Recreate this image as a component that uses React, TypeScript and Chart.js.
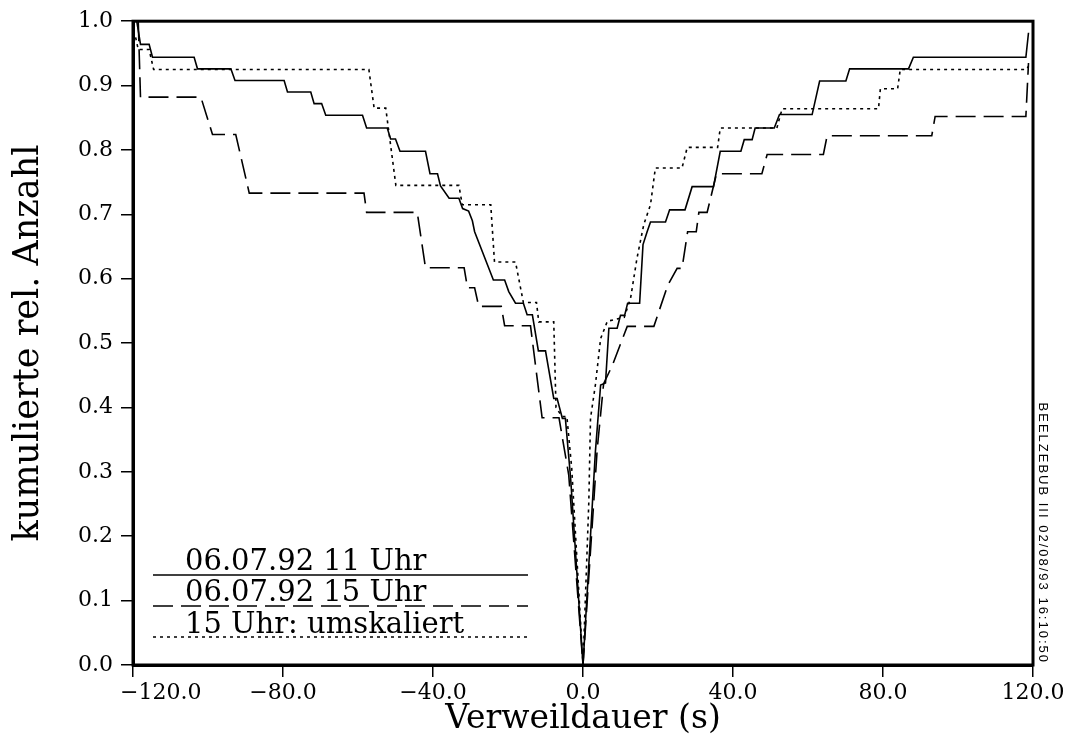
import React, { useEffect, useRef } from "react";
import { Chart, registerables } from "chart.js";

Chart.register(...registerables);

// ---- Data ----
const xTickValues = [-120, -80, -40, 0, 40, 80, 120];
const yTickValues = [0, 0.1, 0.2, 0.3, 0.4, 0.5, 0.6, 0.7, 0.8, 0.9, 1.0];
const xAxisTitle = "Verweildauer (s)";
const yAxisTitle = "kumulierte rel. Anzahl";
const seriesLabels = ["06.07.92 11 Uhr", "06.07.92 15 Uhr", "15 Uhr: umskaliert"];
const stampText = "BEELZEBUB III 02/08/93 16:10:50";

// 06.07.92 11 Uhr (solid)
const x11 = [
  -119.0, -118.0, -115.7, -114.8, -103.7, -102.8, -93.9, -92.8, -79.7, -78.8,
  -72.6, -71.7, -69.7, -68.6, -58.8, -57.7, -52.2, -51.3, -50.0, -48.8,
  -42.0, -40.8, -38.8, -38.0, -35.7, -33.1, -32.1, -30.5, -29.5, -28.9,
  -23.9, -20.9, -19.8, -18.0, -15.9, -14.9, -13.5, -11.9, -10.0, -7.8,
  -6.9, -5.5, -4.7, -3.3, 0,
  3.3, 4.7, 6.0, 6.9, 9.1, 10.0, 11.1, 11.9, 15.1, 16.0,
  17.1, 18.0, 22.0, 23.1, 27.2, 29.1, 34.8, 36.6, 42.1, 43.0,
  45.1, 45.9, 51.0, 52.4, 61.1, 63.1, 70.1, 71.1, 86.8, 88.1,
  118.1, 118.8,
];
const y11 = [
  1.0, 0.964, 0.964, 0.944, 0.944, 0.926, 0.926, 0.908, 0.908, 0.89,
  0.89, 0.872, 0.872, 0.854, 0.854, 0.834, 0.834, 0.817, 0.817, 0.798,
  0.798, 0.763, 0.763, 0.744, 0.725, 0.725, 0.709, 0.705, 0.69, 0.673,
  0.598, 0.598, 0.58, 0.562, 0.562, 0.544, 0.544, 0.488, 0.488, 0.414,
  0.414, 0.383, 0.383, 0.29, 0,
  0.331, 0.435, 0.438, 0.523, 0.523, 0.543, 0.543, 0.562, 0.562, 0.653,
  0.673, 0.688, 0.688, 0.707, 0.707, 0.743, 0.743, 0.798, 0.798, 0.816,
  0.816, 0.834, 0.834, 0.855, 0.855, 0.907, 0.907, 0.926, 0.926, 0.944,
  0.944, 0.982,
];

// 06.07.92 15 Uhr (dashed)
const x15 = [
  -118.6, -118.0, -101.9, -98.8, -92.6, -89.0, -58.4, -57.7, -44.2, -42.0,
  -31.7, -30.8, -28.9, -27.8, -21.8, -20.9, -14.0, -10.9, -6.4, -3.8, 0,
  3.8, 5.5, 7.8, 11.8, 18.9, 22.6, 25.1, 26.4, 27.9, 30.2,
  30.9, 33.1, 35.6, 47.7, 49.1, 64.1, 65.1, 93.0, 93.9, 118.1, 118.8,
];
const y15 = [
  1.0, 0.882, 0.882, 0.824, 0.824, 0.733, 0.733, 0.703, 0.703, 0.617,
  0.617, 0.586, 0.586, 0.557, 0.557, 0.527, 0.527, 0.384, 0.384, 0.295, 0,
  0.336, 0.437, 0.465, 0.526, 0.526, 0.59, 0.616, 0.616, 0.673, 0.673,
  0.703, 0.703, 0.763, 0.763, 0.793, 0.793, 0.822, 0.822, 0.852, 0.852, 0.935,
];

// 15 Uhr: umskaliert (dotted)
const x15u = [
  -119.3, -118.6, -115.7, -114.5, -57.1, -55.7, -52.6, -49.9, -33.1, -32.2,
  -24.6, -23.6, -18.0, -15.9, -12.4, -11.8, -7.8, -7.2, -5.6, -4.3, -3.0, 0,
  1.55, 2.0, 3.3, 4.7, 6.5, 11.0, 12.7, 14.4, 16.2, 18.0,
  19.3, 26.4, 27.8, 35.9, 36.6, 51.7, 53.1, 78.8, 79.3, 83.9,
  84.6, 118.3, 118.8,
];
const y15u = [
  0.975, 0.956, 0.956, 0.925, 0.925, 0.865, 0.865, 0.745, 0.745, 0.715,
  0.715, 0.626, 0.626, 0.563, 0.563, 0.533, 0.533, 0.4, 0.386, 0.386, 0.305, 0,
  0.253, 0.383, 0.435, 0.507, 0.534, 0.54, 0.57, 0.632, 0.684, 0.715,
  0.772, 0.772, 0.804, 0.804, 0.834, 0.834, 0.864, 0.864, 0.895, 0.895,
  0.925, 0.925, 0.93,
];

const dashPatterns: number[][] = [[], [20, 8], [3, 4]];
const FONT = "'DejaVu Serif', serif";

const toPoints = (xs: number[], ys: number[]) => xs.map((x, i) => ({ x, y: ys[i] }));
const fmt = (v: number) => {
  const s = Math.abs(v).toFixed(1);
  return v < 0 ? "\u2212" + s : s;
};

const decorPlugin = {
  id: "decor",
  beforeDraw(chart: any) {
    // The first x tick label starts at the left axis end instead of being centred.
    const s = chart.scales.x;
    if (s && typeof s._computeLabelItems === "function") {
      s._labelItems = s._computeLabelItems(chart.chartArea);
      const first = s._labelItems && s._labelItems[0];
      if (first && first.options && first.options.translation) {
        first.options.textAlign = "left";
        first.options.translation = [chart.chartArea.left - 13, first.options.translation[1]];
      }
    }
  },
  afterDraw(chart: any) {
    const { ctx, chartArea: a } = chart;
    ctx.save();
    // frame
    ctx.strokeStyle = "#000";
    ctx.lineWidth = 3;
    ctx.setLineDash([]);
    ctx.strokeRect(a.left, a.top, a.right - a.left, a.bottom - a.top);

    // legend
    ctx.font = `29px ${FONT}`;
    ctx.fillStyle = "#000";
    ctx.textAlign = "left";
    ctx.textBaseline = "alphabetic";
    const textX = a.left + 52;
    const lineX0 = a.left + 20;
    const lineX1 = a.left + 395;
    const baselines = [a.bottom - 95, a.bottom - 64, a.bottom - 32];
    const lineYs = [a.bottom - 90, a.bottom - 59, a.bottom - 28];
    seriesLabels.forEach((label, i) => {
      ctx.fillText(label, textX, baselines[i]);
      ctx.beginPath();
      ctx.lineWidth = 1.6;
      ctx.setLineDash(dashPatterns[i]);
      ctx.moveTo(lineX0, lineYs[i]);
      ctx.lineTo(lineX1, lineYs[i]);
      ctx.stroke();
    });
    ctx.setLineDash([]);

    // rotated stamp on the right
    ctx.save();
    ctx.translate(a.right + 10, a.bottom - 1);
    ctx.rotate(Math.PI / 2);
    ctx.font = "13px 'Liberation Sans', sans-serif";
    (ctx as any).letterSpacing = "2px";
    ctx.textAlign = "right";
    ctx.textBaseline = "middle";
    ctx.fillText(stampText, 0, 0);
    ctx.restore();

    ctx.restore();
  },
};

export default function App() {
  const canvasRef = useRef<HTMLCanvasElement | null>(null);

  useEffect(() => {
    if (!canvasRef.current) return;
    const datasets = [
      { label: seriesLabels[0], data: toPoints(x11, y11), borderDash: dashPatterns[0] },
      { label: seriesLabels[1], data: toPoints(x15, y15), borderDash: dashPatterns[1] },
      { label: seriesLabels[2], data: toPoints(x15u, y15u), borderDash: dashPatterns[2] },
    ].map((d) => ({
      ...d,
      borderColor: "#000",
      borderWidth: 1.6,
      pointRadius: 0,
      tension: 0,
      fill: false,
    }));

    const chart = new Chart(canvasRef.current, {
      type: "line",
      data: { datasets },
      plugins: [decorPlugin],
      options: {
        responsive: false,
        animation: false,
        devicePixelRatio: 1,
        layout: { padding: { top: 21, right: 45, left: 0, bottom: 0 } },
        plugins: { legend: { display: false }, tooltip: { enabled: false } },
        scales: {
          x: {
            type: "linear",
            min: -120,
            max: 120,
            afterBuildTicks: (s: any) => {
              s.ticks = xTickValues.map((value) => ({ value }));
            },
            afterFit: (s: any) => {
              s.height = 82;
            },
            ticks: {
              callback: (v: any) => fmt(Number(v)),
              font: { family: FONT, size: 22 },
              color: "#000",
              padding: 3,
              maxRotation: 0,
              autoSkip: false,
            },
            grid: {
              display: true,
              drawOnChartArea: false,
              drawTicks: true,
              tickLength: 12,
              color: "#000",
              lineWidth: 1.5,
            },
            border: { display: true, color: "#000", width: 3 },
            title: {
              display: true,
              text: xAxisTitle,
              font: { family: FONT, size: 33 },
              color: "#000",
              padding: { top: 0, bottom: 8 },
            },
          },
          y: {
            type: "linear",
            min: 0,
            max: 1,
            afterBuildTicks: (s: any) => {
              s.ticks = yTickValues.map((value) => ({ value }));
            },
            afterFit: (s: any) => {
              s.width = 133;
            },
            ticks: {
              callback: (v: any) => Number(v).toFixed(1),
              font: { family: FONT, size: 22 },
              color: "#000",
              padding: 8,
              autoSkip: false,
            },
            grid: {
              display: true,
              drawOnChartArea: false,
              drawTicks: true,
              tickLength: 12,
              color: "#000",
              lineWidth: 1.5,
            },
            border: { display: true, color: "#000", width: 3 },
            title: {
              display: true,
              text: yAxisTitle,
              font: { family: FONT, size: 35 },
              color: "#000",
              padding: { top: 8, bottom: 0 },
            },
          },
        },
      },
    } as any);
    return () => chart.destroy();
  }, []);

  return (
    <div style={{ position: "fixed", left: 0, top: 0, width: 1078, height: 747, background: "#fff" }}>
      <canvas ref={canvasRef} width={1078} height={747} style={{ display: "block" }} />
    </div>
  );
}
